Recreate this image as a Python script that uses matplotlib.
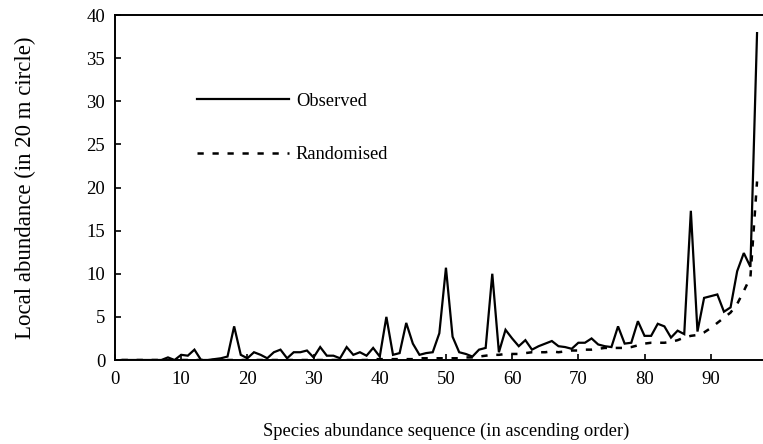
import matplotlib
matplotlib.use("Agg")
import matplotlib.pyplot as plt
import numpy as np

plt.rcParams['font.family'] = ['Liberation Serif', 'DejaVu Serif']

species = list(range(1, 98))
observed = [0, 0, 0, 0, 0, 0, 0, 0.3, 0, 0.6,
            0.5, 1.2, 0, 0, 0.1, 0.2, 0.4, 3.9, 0.6, 0.2,
            0.9, 0.6, 0.2, 0.9, 1.2, 0.2, 0.9, 0.9, 1.1, 0.3,
            1.5, 0.5, 0.5, 0.2, 1.5, 0.6, 0.9, 0.5, 1.4, 0.4,
            5.0, 0.6, 0.8, 4.3, 1.9, 0.6, 0.8, 0.9, 3.1, 10.7,
            2.7, 0.9, 0.7, 0.4, 1.2, 1.4, 10.0, 0.9, 3.5, 2.5,
            1.6, 2.3, 1.2, 1.6, 1.9, 2.2, 1.6, 1.5, 1.3, 2.0,
            2.0, 2.5, 1.8, 1.6, 1.5, 3.9, 1.9, 2.0, 4.5, 2.8,
            2.8, 4.2, 3.9, 2.6, 3.4, 3.0, 17.3, 3.3, 7.2, 7.4,
            7.6, 5.6, 6.1, 10.3, 12.4, 10.8, 37.9]
randomised = [0, 0, 0, 0, 0, 0, 0, 0, 0, 0,
              0, 0, 0, 0, 0, 0, 0, 0, 0, 0,
              0, 0, 0, 0, 0, 0, 0, 0, 0, 0,
              0, 0, 0, 0, 0, 0, 0, 0, 0.1, 0.1,
              0.1, 0.1, 0.1, 0.1, 0.1, 0.2, 0.2, 0.2, 0.2, 0.2,
              0.2, 0.2, 0.3, 0.3, 0.4, 0.5, 0.6, 0.6, 0.7, 0.7,
              0.7, 0.8, 0.9, 0.9, 0.9, 1.0, 0.9, 1.0, 1.1, 1.1,
              1.2, 1.2, 1.3, 1.4, 1.4, 1.4, 1.4, 1.5, 1.7, 1.9,
              2.0, 2.0, 2.0, 2.1, 2.3, 2.6, 2.8, 2.9, 3.2, 3.7,
              4.3, 4.9, 5.5, 6.5, 8.0, 9.6, 20.7]

xticks = [0, 10, 20, 30, 40, 50, 60, 70, 80, 90]
yticks = [0, 5, 10, 15, 20, 25, 30, 35, 40]

fig = plt.figure(figsize=(7.63, 4.44), dpi=100)
ax = fig.add_axes([115/763, 1-360/444, (763-115)/763, (360-15)/444])

ax.plot(species, observed, color='black', lw=1.6, label='Observed', solid_joinstyle='miter')
ax.plot(species, randomised, color='black', lw=1.8, linestyle=(0, (2.5, 3.5)), label='Randomised')

ax.set_xlim(0, 97.9)
ax.set_ylim(0, 40)
ax.set_xticks(xticks)
ax.set_yticks(yticks)
ax.tick_params(direction='in', length=4, width=1.2, labelsize=13.5, pad=7)
ax.tick_params(axis='x', pad=8)
for s in ['left', 'bottom', 'top']:
    ax.spines[s].set_linewidth(1.4)
ax.spines['right'].set_visible(False)

ax.set_xlabel('Species abundance sequence (in ascending order)', fontsize=13.3, labelpad=25)
ax.xaxis.label.set_x(0.511)
ax.set_ylabel('Local abundance (in 20 m circle)', fontsize=16.5, labelpad=36)

ax.legend(loc='upper left', bbox_to_anchor=(0.1265, 0.775), frameon=False,
          fontsize=13.3, handlelength=5.0, handletextpad=0.35, labelspacing=1.97,
          borderpad=0, borderaxespad=0)

fig.savefig('out.png', dpi=100)
